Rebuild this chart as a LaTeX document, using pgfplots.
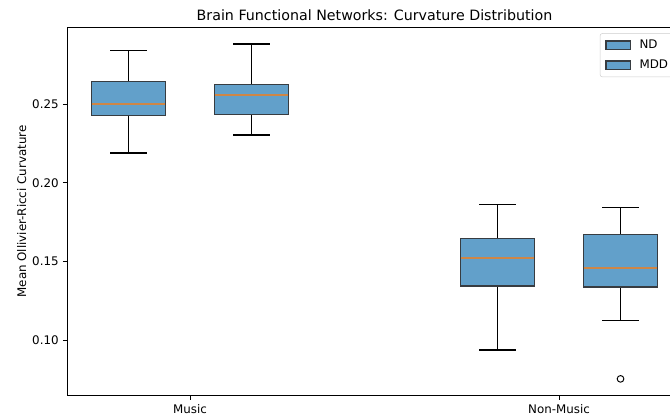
\documentclass[border=0pt]{standalone}
\usepackage{pgfplots}
\pgfplotsset{compat=1.18}
\usepgfplotslibrary{statistics}
\usepackage{fontspec}
\setmainfont{DejaVu Sans}
\definecolor{boxfill}{RGB}{98,160,202}
\definecolor{boxedge}{RGB}{55,60,65}
\definecolor{medc}{RGB}{206,134,70}
\definecolor{leggray}{RGB}{204,204,204}
\pgfplotsset{boxlegend/.style={legend image code/.code={\draw[##1, sharp corners] (0bp,-3.5bp) rectangle (20.7bp,3.5bp);}}}
\begin{document}
\begin{tikzpicture}
\useasboundingbox (0,0) rectangle (562.8bp,351.12bp);
\clip (0,0) rectangle (562.8bp,351.12bp);
\begin{axis}[
  at={(56.28bp,18.73bp)}, anchor=south west,
  scale only axis, width=516.6bp, height=309.46bp,
  xmin=-0.3333, xmax=1.3333, ymin=0.0646, ymax=0.299,
  xtick={0,1}, xticklabels={Music,Non-Music},
  ytick={0.10,0.15,0.20,0.25},
  yticklabel style={/pgf/number format/.cd, fixed, fixed zerofill, precision=2},
  /pgf/number format/assume math mode=true,
  xtick pos=bottom, ytick pos=left,
  tick align=outside, major tick length=3.5bp,
  tick style={black, line width=0.8bp},
  axis line style={line width=0.8bp},
  tick label style={font=\fontsize{10}{12}\selectfont},
  title={Brain Functional Networks: Curvature Distribution},
  every axis title/.style={at={(axis description cs:0.5,1)}, anchor=base, yshift=6bp, font=\fontsize{12}{14}\selectfont},
  ylabel={Mean Ollivier-Ricci Curvature},
  every axis y label/.style={at={(axis description cs:-0.0736,0.5)}, rotate=90, anchor=center, font=\fontsize{10}{12}\selectfont},
  legend style={at={(1,1)}, anchor=north east, xshift=-5bp, yshift=-5bp, draw=leggray, rounded corners=2bp, font=\fontsize{10}{12}\selectfont, row sep=4bp, inner xsep=4.5bp, inner ysep=3.5bp, /tikz/every odd column/.append style={column sep=5bp}},
  legend cell align=left,
  boxplot/draw direction=y,
  boxplot/every box/.style={draw=boxedge, fill=boxfill, line width=1bp},
  boxplot/every whisker/.style={black, line width=1bp},
  boxplot/every median/.style={draw=none},
]
\addlegendimage{boxlegend, draw=boxedge, fill=boxfill, line width=1bp}
\addlegendentry{ND}
\addlegendimage{boxlegend, draw=boxedge, fill=boxfill, line width=1bp}
\addlegendentry{MDD}
% Music ND
\addplot[forget plot, boxplot prepared={draw position=-0.1667, lower whisker=0.2190, lower quartile=0.2427, median=0.2504, upper quartile=0.2644, upper whisker=0.2841, box extend=0.2, whisker extend=0.1}] coordinates {};
% Music MDD
\addplot[forget plot, boxplot prepared={draw position=0.1667, lower whisker=0.2305, lower quartile=0.2436, median=0.2557, upper quartile=0.2627, upper whisker=0.2884, box extend=0.2, whisker extend=0.1}] coordinates {};
% Non-Music ND
\addplot[forget plot, boxplot prepared={draw position=0.8333, lower whisker=0.0937, lower quartile=0.1344, median=0.1522, upper quartile=0.1648, upper whisker=0.1861, box extend=0.2, whisker extend=0.1}] coordinates {};
% Non-Music MDD
\addplot[forget plot, boxplot prepared={draw position=1.1667, lower whisker=0.1126, lower quartile=0.1338, median=0.1459, upper quartile=0.1673, upper whisker=0.1845, box extend=0.2, whisker extend=0.1}] coordinates {};
% medians
\addplot[forget plot, no marks, draw=medc, line width=1.7bp] coordinates {(-0.2667,0.2504) (-0.0667,0.2504)};
\addplot[forget plot, no marks, draw=medc, line width=1.7bp] coordinates {(0.0667,0.2557) (0.2667,0.2557)};
\addplot[forget plot, no marks, draw=medc, line width=1.7bp] coordinates {(0.7333,0.1522) (0.9333,0.1522)};
\addplot[forget plot, no marks, draw=medc, line width=1.7bp] coordinates {(1.0667,0.1459) (1.2667,0.1459)};
% outlier
\addplot[forget plot, only marks, mark=o, mark size=2.8bp, black, line width=0.8bp] coordinates {(1.1667,0.0753)};
\end{axis}
\end{tikzpicture}
\end{document}
